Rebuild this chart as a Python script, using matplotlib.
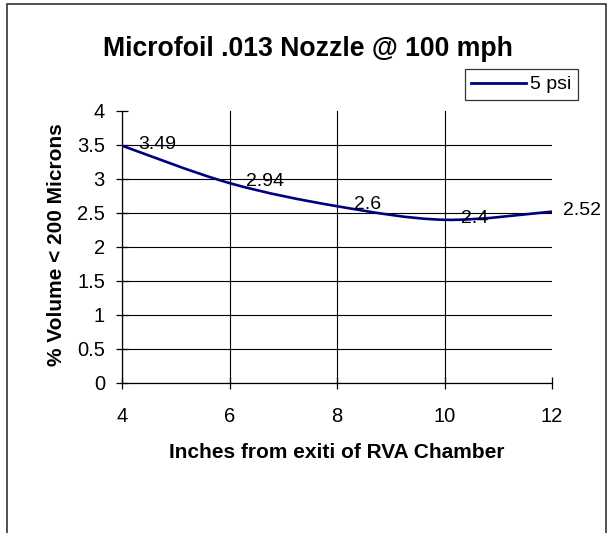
import matplotlib
matplotlib.use('Agg')
import matplotlib.pyplot as plt
from matplotlib.path import Path
from matplotlib.patches import PathPatch, Rectangle
from matplotlib.lines import Line2D

plt.rcParams['font.family'] = ['Liberation Sans', 'DejaVu Sans']

# data
inches = [4, 6, 8, 10, 12]
volume = [3.49, 2.94, 2.6, 2.4, 2.52]
series_name = '5 psi'
x_ticks = [4, 6, 8, 10, 12]
y_ticks = [0, 0.5, 1, 1.5, 2, 2.5, 3, 3.5, 4]

W, H = 607, 533
fig = plt.figure(figsize=(W / 100, H / 100), dpi=100)
ax = fig.add_axes([122 / W, 1 - 383 / H, 430 / W, 272 / H])

# Excel-style smoothed line: cubic Bezier through the points
pts = list(zip(inches, volume))
ext = [pts[0]] + pts + [pts[-1]]
verts = [pts[0]]
codes = [Path.MOVETO]
for i in range(1, len(ext) - 2):
    p0, p1, p2, p3 = ext[i - 1], ext[i], ext[i + 1], ext[i + 2]
    c1 = (p1[0] + (p2[0] - p0[0]) / 6, p1[1] + (p2[1] - p0[1]) / 6)
    c2 = (p2[0] - (p3[0] - p1[0]) / 6, p2[1] - (p3[1] - p1[1]) / 6)
    verts += [c1, c2, p2]
    codes += [Path.CURVE4] * 3
line_color = '#000080'
ax.add_patch(PathPatch(Path(verts, codes), facecolor='none',
                       edgecolor=line_color, lw=1.9, zorder=3))

for i, (x, y) in enumerate(pts):
    dx = 8 if i == len(pts) - 1 else 12
    ax.annotate(f'{y:g}', (x, y), xytext=(dx, 1), textcoords='offset points',
                ha='left', va='center', fontsize=14, zorder=4)

ax.set_xlim(4, 12)
ax.set_ylim(0, 4)
ax.set_xticks(x_ticks)
ax.set_yticks(y_ticks)
ax.set_yticklabels([f'{v:g}' for v in y_ticks])
ax.tick_params(direction='inout', length=8.6, width=0.9, labelsize=14.5, color='black')
ax.tick_params(axis='x', pad=13)
ax.tick_params(axis='y', pad=8)
ax.grid(True, color='black', lw=0.8)
ax.set_axisbelow(True)
ax.xaxis.get_gridlines()[-1].set_visible(False)
ax.yaxis.get_gridlines()[-1].set_visible(False)
for s in ['top', 'right']:
    ax.spines[s].set_visible(False)
for s in ['left', 'bottom']:
    ax.spines[s].set_color('black')
    ax.spines[s].set_linewidth(0.9)

fig.text(307.5 / W, 1 - 56 / H, 'Microfoil .013 Nozzle @ 100 mph',
         ha='center', va='baseline', fontsize=19.2, fontweight='bold')
fig.text(337 / W, 1 - 458 / H, 'Inches from exiti of RVA Chamber',
         ha='center', va='baseline', fontsize=15, fontweight='bold')
fig.text(57 / W, 1 - 245 / H, '% Volume < 200 Microns', rotation=90,
         ha='center', va='center', fontsize=15, fontweight='bold')

handle = Line2D([], [], color=line_color, lw=2)
leg = fig.legend([handle], [series_name], loc='upper right',
                 bbox_to_anchor=(578 / W, 1 - 69 / H), fontsize=14,
                 frameon=True, fancybox=False, edgecolor='black',
                 handlelength=2.8, handletextpad=0.2, borderpad=0.35,
                 borderaxespad=0)
leg.get_frame().set_linewidth(0.9)

# outer chart border (bottom edge falls outside the picture)
fig.patches.append(Rectangle((6.5 / W, -0.1), 599.5 / W, 1.1 - 4.5 / H,
                             transform=fig.transFigure, fill=False,
                             edgecolor='#333333', lw=1.2))

fig.savefig('out.png', dpi=100)
